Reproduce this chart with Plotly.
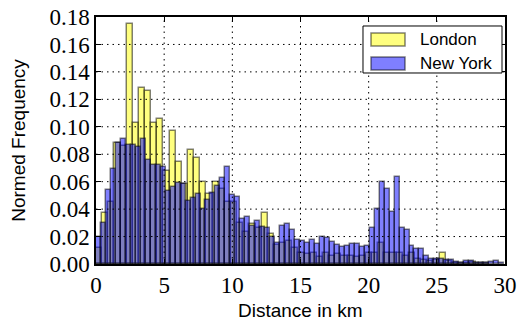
import plotly.graph_objects as go

# ---------------- data ----------------
series_names = ["London", "New York"]

london_bin_start = 0.0
london_bin_width = 0.45
london_heights = [
    0.012, 0.037, 0.045, 0.088, 0.086, 0.175, 0.103, 0.1285, 0.126, 0.103,
    0.106, 0.068, 0.097, 0.0746, 0.058, 0.083, 0.077, 0.060, 0.051, 0.060,
    0.055, 0.045, 0.045, 0.030, 0.023, 0.029, 0.026, 0.037, 0.022, 0.014,
    0.015, 0.017, 0.012, 0.008, 0.007, 0.008, 0.005, 0.008, 0.006, 0.007,
    0.006, 0.006, 0.005, 0.006, 0.008, 0.008, 0.015, 0.008, 0.008, 0.008,
    0.006, 0.008, 0.004, 0.003, 0.002, 0.003, 0.008, 0.002, 0.001, 0.001,
    0.001, 0.0015, 0.0005, 0.0005,
]

ny_bin_start = 0.0
ny_bin_width = 0.365
ny_heights = [
    0.020, 0.030, 0.054, 0.069, 0.088, 0.091, 0.087, 0.087, 0.085, 0.091,
    0.076, 0.072, 0.072, 0.071, 0.053, 0.056, 0.059, 0.058, 0.046, 0.048,
    0.051, 0.040, 0.047, 0.052, 0.057, 0.063, 0.071, 0.050, 0.049, 0.033,
    0.034, 0.028, 0.031, 0.027, 0.026, 0.020, 0.0155, 0.028, 0.029, 0.025,
    0.0175, 0.017, 0.0155, 0.0175, 0.0146, 0.020, 0.019, 0.016, 0.014, 0.0126,
    0.013, 0.0143, 0.0143, 0.0126, 0.013, 0.026, 0.040, 0.060, 0.055, 0.0377,
    0.0637, 0.026, 0.0248, 0.013, 0.011, 0.0107, 0.0058, 0.004, 0.004, 0.0036,
    0.003, 0.003, 0.0017, 0.001, 0.002, 0.002, 0.001, 0.0005, 0.0005, 0.0017,
    0.0024, 0.001,
]

x_ticks = [0, 5, 10, 15, 20, 25, 30]
y_ticks = [0.00, 0.02, 0.04, 0.06, 0.08, 0.10, 0.12, 0.14, 0.16, 0.18]

x_title = "Distance in km"
y_title = "Normed Frequency"

# ---------------- styles ----------------
fills = ["rgba(255,255,0,0.5)", "rgba(0,0,255,0.5)"]
edge = "rgba(0,0,0,0.5)"
tick_font = dict(family="Liberation Serif", size=23, color="black")
sans = "Liberation Sans"


def centers(start, width, n):
    return [start + width * (k + 0.5) for k in range(n)]


fig = go.Figure()
for name, start, width, heights, fill in [
    (series_names[0], london_bin_start, london_bin_width, london_heights, fills[0]),
    (series_names[1], ny_bin_start, ny_bin_width, ny_heights, fills[1]),
]:
    fig.add_trace(go.Bar(
        x=centers(start, width, len(heights)),
        y=heights,
        width=width,
        name=name,
        marker=dict(color=fill, line=dict(color=edge, width=1.5)),
        showlegend=False,
    ))

# dotted grid drawn above the bars (matplotlib classic style)
shapes = []
for xv in x_ticks[1:-1]:
    shapes.append(dict(type="line", xref="x", yref="paper", x0=xv, x1=xv, y0=0, y1=1,
                       line=dict(color="black", width=1, dash="1.5px,4px"), layer="above"))
for yv in y_ticks[1:-1]:
    shapes.append(dict(type="line", xref="paper", yref="y", x0=0, x1=1, y0=yv, y1=yv,
                       line=dict(color="black", width=1, dash="1.5px,4px"), layer="above"))

# legend box
lx0, lx1, ly0, ly1 = 0.6528, 0.9927, 0.7733, 0.9636
shapes.append(dict(type="rect", xref="paper", yref="paper", x0=lx0, x1=lx1, y0=ly0, y1=ly1,
                   line=dict(color="black", width=1), fillcolor="white", layer="above"))
sw_rows = [(0.8826, 0.9352), (0.7854, 0.8381)]
for (sy0, sy1), fill in zip(sw_rows, fills):
    shapes.append(dict(type="rect", xref="paper", yref="paper", x0=0.6724, x1=0.7555,
                       y0=sy0, y1=sy1, line=dict(color=edge, width=1.5),
                       fillcolor=fill, layer="above"))

annotations = []
for (sy0, sy1), name in zip(sw_rows, series_names):
    annotations.append(dict(xref="paper", yref="paper", x=0.787, y=(sy0 + sy1) / 2,
                            text=name, showarrow=False, xanchor="left", yanchor="middle",
                            font=dict(family=sans, size=17, color="black")))
annotations.append(dict(xref="paper", yref="paper", x=0.5, y=-0.19, text=x_title,
                        showarrow=False, xanchor="center", yanchor="middle",
                        font=dict(family=sans, size=19, color="black")))
annotations.append(dict(xref="paper", yref="paper", x=-0.19, y=0.5, text=y_title,
                        showarrow=False, xanchor="center", yanchor="middle", textangle=-90,
                        font=dict(family=sans, size=19, color="black")))

axis_common = dict(
    showline=True, linecolor="black", linewidth=1.5, mirror="ticks",
    ticks="inside", ticklen=5, tickwidth=1, tickcolor="black",
    showgrid=False, zeroline=False, tickfont=tick_font, automargin=False,
    ticklabeloverflow="allow",
)

fig.update_layout(
    width=522, height=329,
    margin=dict(l=96, r=17, t=17, b=65),
    paper_bgcolor="white", plot_bgcolor="white",
    barmode="overlay", bargap=0,
    xaxis=dict(range=[0, 30], tickvals=x_ticks, ticktext=[str(v) for v in x_ticks],
               **axis_common),
    yaxis=dict(range=[0, 0.18], tickvals=y_ticks,
               ticktext=["%.2f" % v for v in y_ticks], **axis_common),
    shapes=shapes,
    annotations=annotations,
)

fig.write_html("out.html", config={"displayModeBar": False},
               post_script="document.body.style.margin='0';")
